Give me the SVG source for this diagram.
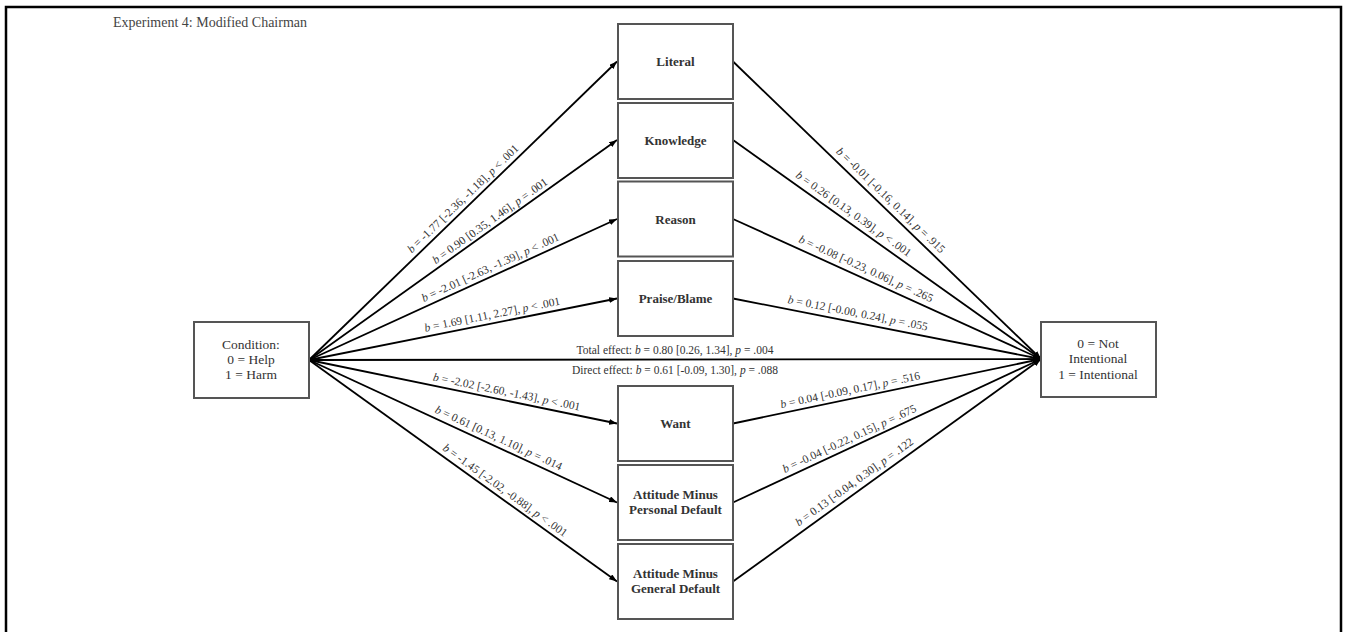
<svg xmlns="http://www.w3.org/2000/svg" width="1345" height="632" viewBox="0 0 1345 632">
<defs>
<marker id="ah" markerUnits="userSpaceOnUse" markerWidth="8" markerHeight="6" refX="8" refY="3" orient="auto">
<path d="M0,0 L8,3 L0,6 z" fill="#000"/>
</marker>
<style>
.box{fill:#fff;stroke:#555;stroke-width:2}
.nl{font-family:"Liberation Serif","Times New Roman",serif;font-size:13px;font-weight:bold;fill:#333;text-anchor:middle}
.el{font-family:"Liberation Serif","Times New Roman",serif;font-size:13.5px;fill:#333;text-anchor:middle}
.lb{font-family:"Liberation Serif","Times New Roman",serif;font-size:11.5px;fill:#333;text-anchor:middle}
.it{font-style:italic}
.cn{stroke:#000;stroke-width:1.8;fill:none;marker-end:url(#ah)}
</style>
</defs>
<rect width="1345" height="632" fill="#fff"/>
<path d="M6,632 V7 H1341 V632" fill="none" stroke="#000" stroke-width="2.5"/>
<text x="113" y="27" style="font-family:'Liberation Serif','Times New Roman',serif;font-size:14px;fill:#444">Experiment 4: Modified Chairman</text>

<g id="connectors">
<line class="cn" x1="309" y1="360" x2="617" y2="61.5"/>
<line class="cn" x1="309" y1="360" x2="617" y2="140"/>
<line class="cn" x1="309" y1="360" x2="617" y2="219"/>
<line class="cn" x1="309" y1="360" x2="617" y2="298.5"/>
<line class="cn" x1="309" y1="360" x2="1041" y2="359"/>
<line class="cn" x1="309" y1="360" x2="617" y2="423.5"/>
<line class="cn" x1="309" y1="360" x2="617" y2="502.5"/>
<line class="cn" x1="309" y1="360" x2="617" y2="581.5"/>
<line class="cn" x1="733" y1="61.5" x2="1041" y2="359"/>
<line class="cn" x1="733" y1="140" x2="1041" y2="359"/>
<line class="cn" x1="733" y1="219" x2="1041" y2="359"/>
<line class="cn" x1="733" y1="298.5" x2="1041" y2="359"/>
<line class="cn" x1="733" y1="423.5" x2="1041" y2="359"/>
<line class="cn" x1="733" y1="502.5" x2="1041" y2="359"/>
<line class="cn" x1="733" y1="581.5" x2="1041" y2="359"/>

<g transform="translate(469,205) rotate(-44.1)"><text class="lb" y="-5"><tspan class="it">b</tspan> = -1.77 [-2.36, -1.18], <tspan class="it">p</tspan> &lt; .001</text></g>
<g transform="translate(495,228) rotate(-35.5)"><text class="lb" y="-5"><tspan class="it">b</tspan> = 0.90 [0.35, 1.46], <tspan class="it">p</tspan> = .001</text></g>
<g transform="translate(494,275.4) rotate(-24.6)"><text class="lb" y="-5"><tspan class="it">b</tspan> = -2.01 [-2.63, -1.39], <tspan class="it">p</tspan> &lt; .001</text></g>
<g transform="translate(494,323) rotate(-11.3)"><text class="lb" y="-5"><tspan class="it">b</tspan> = 1.69 [1.11, 2.27], <tspan class="it">p</tspan> &lt; .001</text></g>
<g transform="translate(505,400.4) rotate(11.6)"><text class="lb" y="-5"><tspan class="it">b</tspan> = -2.02 [-2.60, -1.43], <tspan class="it">p</tspan> &lt; .001</text></g>
<g transform="translate(495,445.8) rotate(24.8)"><text class="lb" y="-5"><tspan class="it">b</tspan> = 0.61 [0.13, 1.10], <tspan class="it">p</tspan> = .014</text></g>
<g transform="translate(500,497.4) rotate(35.7)"><text class="lb" y="-5"><tspan class="it">b</tspan> = -1.45 [-2.02, -0.88], <tspan class="it">p</tspan> &lt; .001</text></g>

<g transform="translate(884,207.3) rotate(44.0)"><text class="lb" y="-6"><tspan class="it">b</tspan> = -0.01 [-0.16, 0.14], <tspan class="it">p</tspan> = .915</text></g>
<g transform="translate(848,221.8) rotate(35.4)"><text class="lb" y="-6"><tspan class="it">b</tspan> = 0.26 [0.13, 0.39], <tspan class="it">p</tspan> &lt; .001</text></g>
<g transform="translate(862,277.6) rotate(24.4)"><text class="lb" y="-6"><tspan class="it">b</tspan> = -0.08 [-0.23, 0.06], <tspan class="it">p</tspan> = .265</text></g>
<g transform="translate(856,322.7) rotate(11.1)"><text class="lb" y="-6"><tspan class="it">b</tspan> = 0.12 [-0.00, 0.24], <tspan class="it">p</tspan> = .055</text></g>
<g transform="translate(852,398.6) rotate(-11.8)"><text class="lb" y="-5"><tspan class="it">b</tspan> = 0.04 [-0.09, 0.17], <tspan class="it">p</tspan> = .516</text></g>
<g transform="translate(853,446.6) rotate(-25)"><text class="lb" y="-5"><tspan class="it">b</tspan> = -0.04 [-0.22, 0.15], <tspan class="it">p</tspan> = .675</text></g>
<g transform="translate(860,489.8) rotate(-35.8)"><text class="lb" y="-6"><tspan class="it">b</tspan> = 0.13 [-0.04, 0.30], <tspan class="it">p</tspan> = .122</text></g>

<text class="lb" x="675" y="354">Total effect: <tspan class="it">b</tspan> = 0.80 [0.26, 1.34], <tspan class="it">p</tspan> = .004</text>
<text class="lb" x="675" y="374">Direct effect: <tspan class="it">b</tspan> = 0.61 [-0.09, 1.30], <tspan class="it">p</tspan> = .088</text>
</g>

<g id="condition"><rect class="box" x="194" y="322" width="115" height="76"/>
<text class="el" x="251" y="349">Condition:</text><text class="el" x="251" y="364">0 = Help</text><text class="el" x="251" y="379">1 = Harm</text></g>

<g id="outcome"><rect class="box" x="1041" y="322" width="115" height="75"/>
<text class="el" x="1098" y="348">0 = Not</text><text class="el" x="1098" y="363">Intentional</text><text class="el" x="1098" y="379">1 = Intentional</text></g>

<g id="literal"><rect class="box" x="618" y="24" width="115" height="75"/><text class="nl" x="675.5" y="66">Literal</text></g>
<g id="knowledge"><rect class="box" x="618" y="103" width="115" height="75"/><text class="nl" x="675.5" y="144.5">Knowledge</text></g>
<g id="reason"><rect class="box" x="618" y="181.5" width="115" height="75"/><text class="nl" x="675.5" y="223.5">Reason</text></g>
<g id="praise"><rect class="box" x="618" y="261" width="115" height="75"/><text class="nl" x="675.5" y="303">Praise/Blame</text></g>
<g id="want"><rect class="box" x="618" y="386" width="115" height="75"/><text class="nl" x="675.5" y="428">Want</text></g>
<g id="attitude-personal"><rect class="box" x="618" y="465" width="115" height="75"/><text class="nl" x="675.5" y="499">Attitude Minus</text><text class="nl" x="675.5" y="514">Personal Default</text></g>
<g id="attitude-general"><rect class="box" x="618" y="544" width="115" height="75"/><text class="nl" x="675.5" y="578">Attitude Minus</text><text class="nl" x="675.5" y="593">General Default</text></g>
</svg>
